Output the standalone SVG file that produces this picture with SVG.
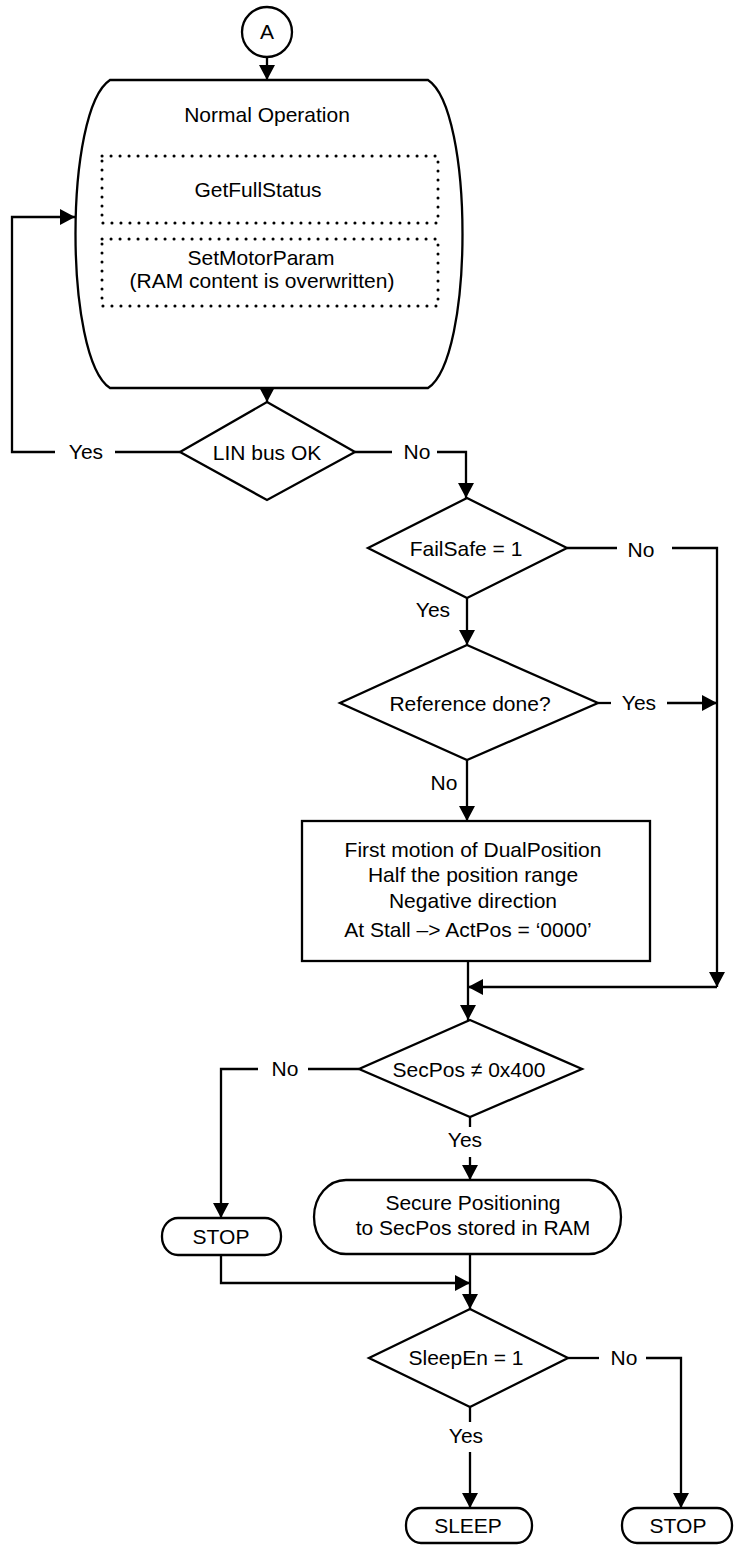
<svg xmlns="http://www.w3.org/2000/svg" width="734" height="1545" viewBox="0 0 734 1545">
<style>
.s{fill:#fff;stroke:#000;stroke-width:2.3}
.dot{fill:none;stroke:#000;stroke-width:3;stroke-dasharray:0.1 8.9;stroke-linecap:round}
.c{fill:none;stroke:#000;stroke-width:2.3}
text{font-family:"Liberation Sans",Arial,sans-serif;font-size:21px;fill:#000;text-anchor:middle}
</style>
<defs>
<marker id="ah" viewBox="0 0 15 16" markerWidth="15" markerHeight="16" refX="15" refY="8" orient="auto" markerUnits="userSpaceOnUse">
<path d="M0,0 L15,8 L0,16 Z" fill="#000"/>
</marker>
</defs>
<g id="connectors">
<line class="c" x1="267" y1="58" x2="267" y2="80" marker-end="url(#ah)"/>
<line class="c" x1="267" y1="388" x2="267" y2="402" marker-end="url(#ah)"/>
<line class="c" x1="180" y1="452" x2="115" y2="452"/>
<text x="86" y="459">Yes</text>
<polyline class="c" points="55,452 12,452 12,217 75,217" marker-end="url(#ah)"/>
<line class="c" x1="355" y1="452" x2="392" y2="452"/>
<text x="417" y="459">No</text>
<polyline class="c" points="437,452 466,452 466,498" marker-end="url(#ah)"/>
<line class="c" x1="567" y1="548" x2="617" y2="548"/>
<text x="641" y="557">No</text>
<polyline class="c" points="672,548 717,548 717,987" marker-end="url(#ah)"/>
<line class="c" x1="467" y1="598" x2="467" y2="645" marker-end="url(#ah)"/>
<text x="433" y="617">Yes</text>
<line class="c" x1="598" y1="703" x2="611" y2="703"/>
<text x="639" y="710">Yes</text>
<line class="c" x1="667" y1="703" x2="717" y2="703" marker-end="url(#ah)"/>
<line class="c" x1="467" y1="760" x2="467" y2="821" marker-end="url(#ah)"/>
<text x="444" y="790">No</text>
<line class="c" x1="468" y1="961" x2="468" y2="1020" marker-end="url(#ah)"/>
<line class="c" x1="717" y1="987" x2="468" y2="987" marker-end="url(#ah)"/>
<line class="c" x1="359" y1="1069" x2="308" y2="1069"/>
<text x="285" y="1076">No</text>
<polyline class="c" points="258,1069 221,1069 221,1218" marker-end="url(#ah)"/>
<line class="c" x1="470" y1="1117" x2="470" y2="1127"/>
<text x="465" y="1147">Yes</text>
<line class="c" x1="470" y1="1157" x2="470" y2="1180" marker-end="url(#ah)"/>
<line class="c" x1="470" y1="1254" x2="470" y2="1309" marker-end="url(#ah)"/>
<polyline class="c" points="221,1255 221,1283 470,1283" marker-end="url(#ah)"/>
<line class="c" x1="568" y1="1358" x2="599" y2="1358"/>
<text x="624" y="1365">No</text>
<polyline class="c" points="646,1358 681,1358 681,1508" marker-end="url(#ah)"/>
<line class="c" x1="470" y1="1407" x2="470" y2="1422"/>
<text x="466" y="1443">Yes</text>
<line class="c" x1="470" y1="1452" x2="470" y2="1508" marker-end="url(#ah)"/>
</g>
<g id="nodeA">
<circle class="s" cx="267" cy="32" r="25"/>
<text x="267" y="39">A</text>
</g>
<g id="normalOperation">
<path class="s" d="M110,80 L428,80 C474,110 474,358 428,388 L110,388 C64,358 64,110 110,80 Z"/>
<text x="267" y="122">Normal Operation</text>
<rect class="dot" x="102" y="156" width="336" height="67"/>
<text x="258" y="197">GetFullStatus</text>
<rect class="dot" x="102" y="239" width="336" height="67"/>
<text x="261" y="265">SetMotorParam</text>
<text x="262" y="288">(RAM content is overwritten)</text>
</g>
<g id="linBusOk">
<polygon class="s" points="267,402 355,452 267,500 180,452"/>
<text x="267" y="460">LIN bus OK</text>
</g>
<g id="failSafe">
<polygon class="s" points="467,498 567,548 467,598 368,548"/>
<text x="466" y="556">FailSafe = 1</text>
</g>
<g id="referenceDone">
<polygon class="s" points="467,645 598,703 467,760 340,703"/>
<text x="470" y="711">Reference done?</text>
</g>
<g id="firstMotion">
<rect class="s" x="302" y="821" width="348" height="140"/>
<text x="473" y="857">First motion of DualPosition</text>
<text x="473" y="882">Half the position range</text>
<text x="473" y="908">Negative direction</text>
<text x="468" y="937">At Stall –&gt; ActPos = ‘0000’</text>
</g>
<g id="secPos">
<polygon class="s" points="470,1020 582,1069 470,1117 359,1069"/>
<text x="469" y="1077">SecPos ≠ 0x400</text>
</g>
<g id="stop1">
<rect class="s" x="162" y="1218" width="119" height="37" rx="16" ry="18"/>
<text x="221" y="1244">STOP</text>
</g>
<g id="securePositioning">
<rect class="s" x="314" y="1180" width="307" height="74" rx="32" ry="37"/>
<text x="473" y="1210">Secure Positioning</text>
<text x="473" y="1235">to SecPos stored in RAM</text>
</g>
<g id="sleepEn">
<polygon class="s" points="470,1309 568,1358 470,1407 369,1358"/>
<text x="466" y="1365">SleepEn = 1</text>
</g>
<g id="sleep">
<rect class="s" x="406" y="1508" width="126" height="35" rx="15" ry="17"/>
<text x="468" y="1533">SLEEP</text>
</g>
<g id="stop2">
<rect class="s" x="622" y="1508" width="110" height="35" rx="15" ry="17"/>
<text x="678" y="1533">STOP</text>
</g>
</svg>
